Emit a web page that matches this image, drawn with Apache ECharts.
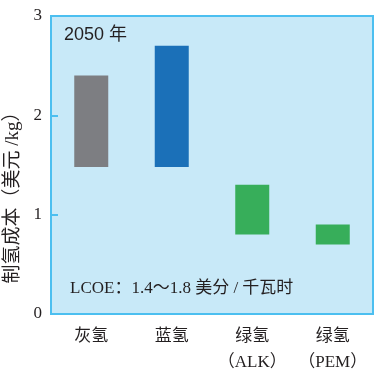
<!DOCTYPE html>
<html>
<head>
<meta charset="utf-8">
<script src="https://cdn.jsdelivr.net/npm/echarts@6/dist/echarts.min.js"></script>
<style>
  html, body { margin: 0; padding: 0; background: #fff; }
  #chart { width: 382px; height: 375px; }
</style>
</head>
<body>
<div id="chart"></div>
<script>
// categories and cost ranges (USD/kg)
var categories = ['灰氢', '蓝氢', '绿氢\n（ALK）', '绿氢\n（PEM）'];
var lowValues = [1.48, 1.48, 0.8, 0.7];
var highValues = [2.4, 2.7, 1.3, 0.9];
var barColors = ['#7d7e82', '#1b70b8', '#37ae5a', '#37ae5a'];
var yTicks = [0, 1, 2, 3];

var serif = '"Liberation Serif", "Noto Sans CJK SC", serif';

var spanData = highValues.map(function (v, i) {
    return {
        value: +(v - lowValues[i]).toFixed(2),
        itemStyle: { color: barColors[i] }
    };
});

var myChart = echarts.init(document.getElementById('chart'), null, { renderer: 'canvas' });

var option = {
    animation: false,
    grid: {
        left: 51,
        right: 9,
        top: 16,
        bottom: 61,
        containLabel: false,
        outerBoundsMode: 'none',
        show: true,
        backgroundColor: '#c8e9f8',
        borderColor: '#4cbff0',
        borderWidth: 2
    },
    xAxis: {
        type: 'category',
        data: categories,
        axisLine: { show: false },
        axisTick: { show: false },
        axisLabel: {
            interval: 0,
            fontFamily: serif,
            fontSize: 17,
            color: '#231f20',
            margin: 10,
            lineHeight: 26
        }
    },
    yAxis: {
        type: 'value',
        min: yTicks[0],
        max: yTicks[yTicks.length - 1],
        interval: 1,
        name: '制氢成本（美元 /kg）',
        nameLocation: 'middle',
        nameGap: 27,
        nameTextStyle: {
            fontFamily: serif,
            fontSize: 19,
            color: '#231f20',
            padding: [0, 56, 0, 0]
        },
        axisLine: { show: false },
        axisTick: {
            show: true,
            inside: true,
            length: 7,
            lineStyle: { color: '#4cbff0', width: 2 }
        },
        splitLine: { show: false },
        axisLabel: {
            fontFamily: serif,
            fontSize: 17,
            color: '#231f20',
            margin: 9
        }
    },
    series: [
        {
            type: 'bar',
            stack: 'range',
            data: lowValues,
            barWidth: 34,
            itemStyle: { color: 'transparent' },
            silent: true
        },
        {
            type: 'bar',
            stack: 'range',
            data: spanData,
            barWidth: 34
        }
    ],
    graphic: [
        {
            type: 'text',
            left: 64,
            top: 26,
            style: {
                text: '2050 年',
                fontFamily: '"Liberation Sans", "Noto Sans CJK SC", sans-serif',
                fontSize: 18,
                fill: '#231f20'
            }
        },
        {
            type: 'text',
            left: 70,
            top: 280,
            style: {
                text: 'LCOE：1.4～1.8 美分 / 千瓦时',
                fontFamily: serif,
                fontSize: 17,
                fill: '#231f20'
            }
        }
    ]
};

myChart.setOption(option);
</script>
</body>
</html>
